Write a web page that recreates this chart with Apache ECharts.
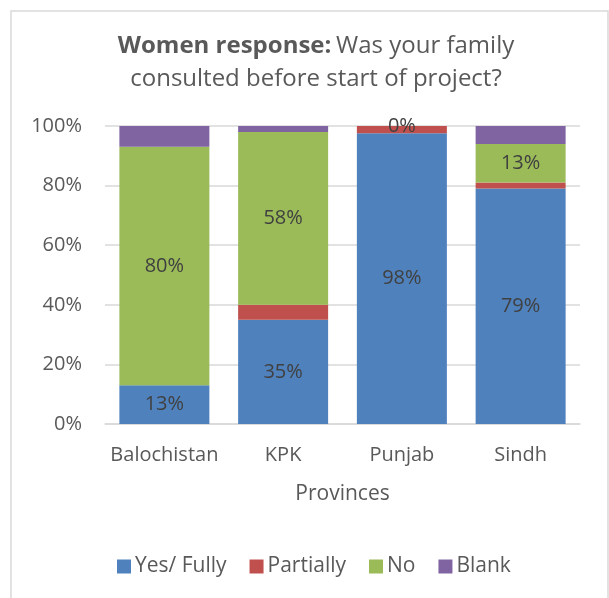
<!DOCTYPE html>
<html>
<head>
<meta charset="utf-8">
<script src="https://cdn.jsdelivr.net/npm/echarts@6/dist/echarts.min.js"></script>
<style>
  html, body { margin: 0; padding: 0; background: #fff; }
  #chart { width: 609px; height: 598px; }
</style>
</head>
<body>
<div id="chart"></div>
<script>
// provinces on the x axis
var provinces = ['Balochistan', 'KPK', 'Punjab', 'Sindh'];
// share of answers (%) per province
var yesFully = [13, 35, 97.6, 79];
var partially = [0, 5, 2.4, 2];
var no = [80, 58, 0, 13];
var blank = [7, 2, 0, 6];
var yTicks = ['0%', '20%', '40%', '60%', '80%', '100%'];

var textColor = '#595959';
var font = 'Open Sans';

var chart = echarts.init(document.getElementById('chart'));

function pctLabel(p) {
    return Math.round(p.value) + '%';
}

function makeSeries(name, data, color, showLabel) {
    return {
        name: name,
        type: 'bar',
        stack: 'total',
        barWidth: 90,
        data: data,
        itemStyle: { color: color },
        label: {
            show: showLabel,
            position: 'inside',
            formatter: pctLabel,
            color: '#404040',
            fontFamily: font,
            fontSize: 20
        },
        emphasis: { disabled: true }
    };
}

chart.setOption({
    textStyle: { fontFamily: font },
    graphic: [{
        type: 'rect',
        shape: { x: 11, y: 11, width: 597, height: 600 },
        style: { fill: 'none', stroke: '#D9D9D9', lineWidth: 1.5 },
        silent: true
    }],
    title: {
        left: 311,
        top: 25,
        textAlign: 'center',
        text: '{b|Women response:} {n|Was your family}\n{n|consulted before start of project?}',
        textStyle: {
            fontWeight: 'normal',
            rich: {
                b: { fontFamily: font, fontSize: 24, fontWeight: 'bold', color: textColor, lineHeight: 33 },
                n: { fontFamily: font, fontSize: 24, fontWeight: 'normal', color: textColor, lineHeight: 33 }
            }
        }
    },
    legend: {
        left: 112,
        top: 551,
        itemWidth: 14,
        itemHeight: 14,
        itemGap: 23,
        icon: 'rect',
        textStyle: { color: textColor, fontFamily: font, fontSize: 21, padding: [0, 0, 0, -1] },
        data: ['Yes/ Fully', 'Partially', 'No', 'Blank']
    },
    grid: {
        left: 105,
        right: 29,
        top: 126,
        bottom: 174,
        containLabel: false
    },
    xAxis: {
        type: 'category',
        data: provinces,
        name: 'Provinces',
        nameLocation: 'middle',
        nameGap: 60,
        nameTextStyle: { color: textColor, fontFamily: font, fontSize: 21 },
        axisLine: { lineStyle: { color: '#D9D9D9', width: 1.5 } },
        axisTick: { show: false },
        axisLabel: { interval: 0, color: textColor, fontFamily: font, fontSize: 20, margin: 21 }
    },
    yAxis: {
        type: 'value',
        min: 0,
        max: 100,
        interval: 20,
        axisLine: { show: false },
        axisTick: { show: false },
        splitLine: { lineStyle: { color: '#D9D9D9', width: 1.5 } },
        axisLabel: {
            color: textColor,
            fontFamily: font,
            fontSize: 20,
            margin: 23,
            formatter: function (v) { return yTicks[v / 20]; }
        }
    },
    series: [
        makeSeries('Yes/ Fully', yesFully, '#4F81BD', true),
        makeSeries('Partially', partially, '#C0504D', false),
        makeSeries('No', no, '#9BBB59', true),
        makeSeries('Blank', blank, '#8064A2', false)
    ]
});
</script>
</body>
</html>
